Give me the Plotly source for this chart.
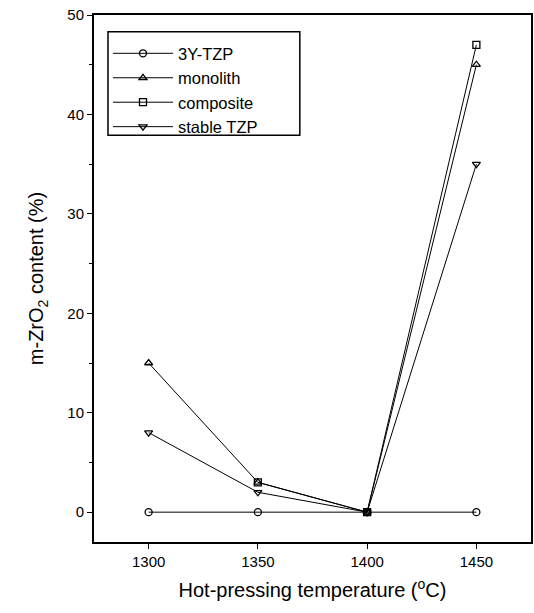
import plotly.graph_objects as go

temps = [1300, 1350, 1400, 1450]
y_3ytzp = [0, 0, 0, 0]
y_monolith = [15, 3, 0, 45]
temps_composite = [1350, 1400, 1450]
y_composite = [3, 0, 47]
y_stable = [8, 2, 0, 35]

series = [
    ("3Y-TZP", temps, y_3ytzp, "circle-open"),
    ("monolith", temps, y_monolith, "triangle-up-open"),
    ("composite", temps_composite, y_composite, "square-open"),
    ("stable TZP", temps, y_stable, "triangle-down-open"),
]

fig = go.Figure()
for name, xs, ys, sym in series:
    fig.add_trace(go.Scatter(
        x=xs, y=ys, name=name, mode="lines+markers",
        line=dict(color="black", width=1),
        marker=dict(symbol=sym, size=7, color="black", line=dict(width=1.3, color="black")),
    ))

font = "Liberation Sans, Arial, sans-serif"
fig.update_layout(
    width=534, height=613,
    margin=dict(l=94, r=3, t=15, b=71),
    paper_bgcolor="white", plot_bgcolor="white",
    font=dict(family=font, color="black", size=15),
    showlegend=True,
    legend=dict(
        x=0.032, y=0.96, xanchor="left", yanchor="top",
        borderwidth=0, bgcolor="rgba(0,0,0,0)",
        font=dict(size=16.5, family=font), itemwidth=60,
        tracegroupgap=0, traceorder="normal",
    ),
    shapes=[dict(
        type="rect", xref="paper", yref="paper",
        x0=0.032, x1=0.471, y0=0.772, y1=0.968,
        line=dict(color="black", width=1.5), fillcolor="white", layer="above",
    )],
)
fig.update_xaxes(
    range=[1275, 1475], tickvals=[1300, 1350, 1400, 1450],
    showline=True, linecolor="black", linewidth=2, mirror=True,
    ticks="outside", ticklen=5, tickcolor="black", tickwidth=1.2,
    showgrid=False, zeroline=False, automargin=False,
    tickfont=dict(size=15), ticklabeloverflow="allow",
    title=dict(text="Hot-pressing temperature (<sup>o</sup>C)", font=dict(size=20), standoff=14),
)
fig.update_yaxes(
    range=[-3, 50], tickvals=[0, 10, 20, 30, 40, 50],
    showline=True, linecolor="black", linewidth=2, mirror=True,
    ticks="outside", ticklen=5, tickcolor="black", tickwidth=1.2,
    minor=dict(ticks="outside", ticklen=3, tickcolor="black", tickwidth=1, dtick=5, tick0=0),
    showgrid=False, zeroline=False, automargin=False,
    tickfont=dict(size=15), ticklabeloverflow="allow",
    title=dict(text="m-ZrO<sub>2</sub> content (%)", font=dict(size=20), standoff=18),
)
fig.write_html(
    "out.html",
    config={"displayModeBar": False},
    post_script="document.body.style.margin='0';document.body.style.overflow='hidden';",
)
